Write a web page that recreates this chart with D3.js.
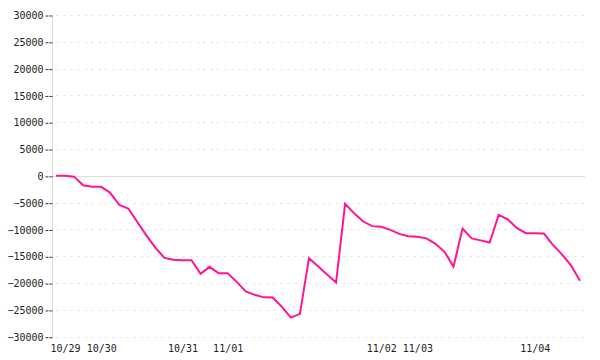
<!DOCTYPE html>
<html>
<head>
<meta charset="utf-8">
<script src="https://cdn.jsdelivr.net/npm/d3@7/dist/d3.min.js"></script>
<style>
  html, body { margin: 0; padding: 0; background: #fff; }
  svg text { font-family: "DejaVu Sans Mono", monospace; font-size: 10px; fill: #222; }
</style>
</head>
<body>
<svg id="chart" width="600" height="360"></svg>
<script>
const values = [
  0, 0, -150, -1770, -2050, -2050, -3170, -5440, -6100, -8600,
  -11100, -13400, -15300, -15650, -15750, -15750, -18280, -16970, -18180, -18180,
  -19770, -21540, -22190, -22660, -22700, -24430, -26430, -25740, -15350, -16860,
  -18390, -19900, -5220, -6990, -8520, -9380, -9510, -10070, -10820, -11280,
  -11340, -11660, -12680, -14170, -16920, -9830, -11660, -12030, -12440, -7270,
  -8110, -9700, -10690, -10720, -10760, -12870, -14640, -16690, -19580
];
const dateLabels = ["10/29", "10/30", "10/31", "11/01", "11/02", "11/03", "11/04"];
const dateIndex = [1, 5, 14, 19, 36, 40, 53];
const yTicks = [30000, 25000, 20000, 15000, 10000, 5000, 0, -5000, -10000, -15000, -20000, -25000, -30000];

const svg = d3.select("#chart");
const left = 52, right = 585;
const x = d3.scaleLinear().domain([0, values.length - 1]).range([56, 580]);
const y = d3.scaleLinear().domain([-30000, 30000]).range([336.7, 15]);

// grid lines
svg.append("g").selectAll("line")
  .data(yTicks.filter(d => d !== 0))
  .join("line")
  .attr("x1", left + 4).attr("x2", right)
  .attr("y1", d => Math.round(y(d)) + 0.5).attr("y2", d => Math.round(y(d)) + 0.5)
  .attr("stroke", "#e8e8e8").attr("stroke-width", 1)
  .attr("stroke-dasharray", "3,4");

// zero line
svg.append("line")
  .attr("x1", left).attr("x2", right)
  .attr("y1", Math.round(y(0)) + 0.5).attr("y2", Math.round(y(0)) + 0.5)
  .attr("stroke", "#dcdcdc").attr("stroke-width", 1);

// y axis
const yAxis = d3.axisLeft(y).tickValues(yTicks).tickSize(7).tickPadding(2).tickFormat(d3.format("d"));
const gy = svg.append("g").attr("transform", `translate(${left + 0.5},0.5)`).call(yAxis);
gy.select(".domain").attr("stroke", "#dcdcdc").attr("d", `M0,${Math.round(y(30000))}V${Math.round(y(-30000))}`);
gy.selectAll(".tick line").attr("stroke", "#333").attr("stroke-dasharray", "3,1");
gy.selectAll(".tick text").attr("fill", "#222").style("font-family", "DejaVu Sans Mono, monospace").style("font-size", "10px");

// x axis labels
const xAxis = d3.axisBottom(x).tickValues(dateIndex).tickSize(0).tickPadding(0)
  .tickFormat((d, i) => dateLabels[i]);
const gx = svg.append("g").attr("transform", "translate(0,345)").call(xAxis);
gx.select(".domain").remove();
gx.selectAll(".tick text").attr("fill", "#222").style("font-family", "DejaVu Sans Mono, monospace").style("font-size", "10px");

// line
const line = d3.line().x((d, i) => x(i)).y(d => y(d));
svg.append("path")
  .datum(values)
  .attr("d", line)
  .attr("fill", "none")
  .attr("stroke", "#ff1493")
  .attr("stroke-width", 2)
  .attr("stroke-linejoin", "miter");
</script>
</body>
</html>
